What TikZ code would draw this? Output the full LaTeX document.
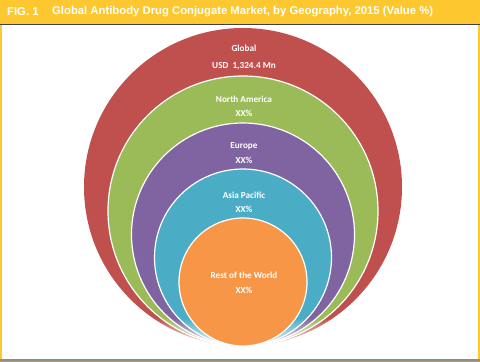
\documentclass[tikz,border=0pt]{standalone}
\usepackage{fontspec}
\setmainfont{Carlito}
\newfontfamily\headfont{Liberation Sans}
\usepackage{xcolor}
\usetikzlibrary{calc, fadings}
\definecolor{figgold}{HTML}{FDC82F}
\definecolor{ringred}{HTML}{C0504D}
\definecolor{ringgreen}{HTML}{9BBB59}
\definecolor{ringpurple}{HTML}{8064A2}
\definecolor{ringteal}{HTML}{4BACC6}
\definecolor{ringorange}{HTML}{F79646}
\tikzset{
    ring/.style={draw=white, line width=1.2pt},
    lbl/.style={text=white, font=\bfseries\fontsize{9.2}{11}\selectfont, inner sep=0pt},
    head/.style={text=white, font=\headfont\bfseries\fontsize{11.3}{13}\selectfont, anchor=west, inner sep=0pt}
}

\begin{document}
\begin{tikzpicture}[x=1pt, y=-1pt]
        \useasboundingbox (0,0) rectangle (480,362);

        % frame
        \fill[figgold] (0,0) rectangle (480,24);
        \draw[black!75, line width=1.5pt] (0,24.5) -- (480,24.5);
        \draw[figgold, line width=2pt] (1,25) -- (1,360);
        \draw[figgold, line width=2pt] (479,25) -- (479,360);
        \fill[black!45] (0,359) rectangle (480,360.5);
        \fill[figgold!80!black] (0,360.5) rectangle (480,362);

        \node[head] (fig) at (7,12) {FIG. 1};
        \node[head] (title) at (52,12) {Global Antibody Drug Conjugate Market, by Geography, 2015 (Value \%)};

        % rings, all touching at the bottom
        \coordinate (base) at (243,346);
        \fill[ringred] ($(base)+(0,-159)$) circle (159);
        \draw[ring, fill=ringgreen] ($(base)+(0,-135)$) circle (135);
        \draw[ring, fill=ringpurple] ($(base)+(0,-111.5)$) circle (111.5);
        \draw[ring, fill=ringteal] ($(base)+(0,-88.5)$) circle (88.5);
        % soft lower edge
        \fill[white, path fading=north] (60,318) rectangle (420,349);
        \draw[ring, fill=ringorange] ($(base)+(0,-64)$) circle (64);

        \node[lbl] (global) at (244,48) {Global};
        \node[lbl] (globalval) at (244,66) {USD\ \ 1,324.4 Mn};
        \node[lbl] (namerica) at (244,99) {North America};
        \node[lbl] (namericaval) at (244,113) {XX\%};
        \node[lbl] (europe) at (244,146) {Europe};
        \node[lbl] (europeval) at (244,160) {XX\%};
        \node[lbl] (apac) at (244,195) {Asia Pacific};
        \node[lbl] (apacval) at (244,209) {XX\%};
        \node[lbl] (row) at (244,275) {Rest of the World};
        \node[lbl] (rowval) at (244,290) {XX\%};
    \end{tikzpicture}
\end{document}
